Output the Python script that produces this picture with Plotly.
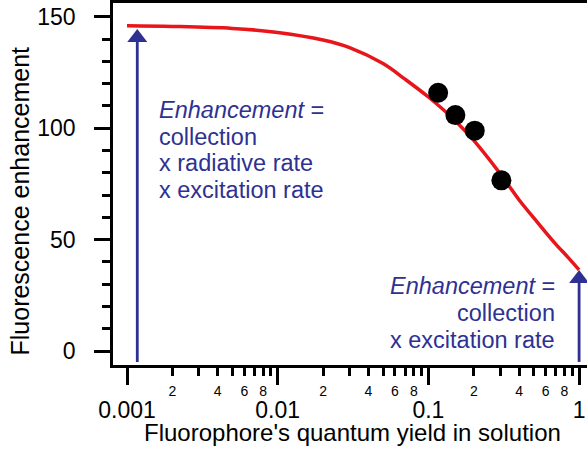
import numpy as np
import plotly.graph_objects as go

# ---- data ----
curve_q = [0.001, 0.002, 0.005, 0.01, 0.02, 0.03, 0.05, 0.07, 0.10, 0.15, 0.20,
           0.30, 0.40, 0.50, 0.60, 0.70, 0.85, 1.0]
curve_enh = [146.0, 145.7, 144.8, 143.0, 139.6, 136.2, 129.0, 122.0, 114.0, 103.5, 94.5,
             79.5, 67.8, 59.8, 53.3, 48.0, 41.8, 36.4]

meas_q = [0.116, 0.151, 0.203, 0.305]
meas_enh = [115.9, 105.9, 98.9, 76.6]

arrow_q = [0.00117, 1.0]
arrow_tip = [144.5, 36.4]
arrow_base = -4.9

x_major_vals = [0.001, 0.01, 0.1, 1]
x_major_text = ["0.001", "0.01", "0.1", "1"]
x_minor_vals = [m * d for d in [0.001, 0.01, 0.1] for m in range(2, 10)]
x_minor_label_vals = [m * d for d in [0.001, 0.01, 0.1] for m in (2, 4, 6, 8)]
x_minor_label_text = [str(m) for d in [0.001, 0.01, 0.1] for m in (2, 4, 6, 8)]
y_major_vals = [0, 50, 100, 150]
y_minor_vals = [10, 20, 30, 40, 60, 70, 80, 90, 110, 120, 130, 140]

left_text = ["<i>Enhancement</i> =", "collection", "x radiative rate", "x excitation rate"]
right_text = ["<i>Enhancement</i> =", "collection", "x excitation rate"]

# ---- styling / layout ----
W, H = 587, 455
ML, MR, MT, MB = 113, 0, 3, 90
PW, PH = W - ML - MR, H - MT - MB
YR = [-6.28, 156.2]
XR = [-3.0929, 0.0524]
BLUE = "#2e3192"
RED = "#e8151b"
FONT = "Liberation Sans, Arial, sans-serif"

units_per_px = (YR[1] - YR[0]) / PH
tri_size = 17.3
tri_r = tri_size / 2

fig = go.Figure()

# arrows (shaft + head)
for q, tip in zip(arrow_q, arrow_tip):
    head_c = tip - tri_r * units_per_px
    fig.add_trace(go.Scatter(x=[q, q], y=[arrow_base, head_c], mode="lines",
                             line=dict(color=BLUE, width=2.8), showlegend=False, hoverinfo="skip",
                             cliponaxis=False))
    fig.add_trace(go.Scatter(x=[q], y=[head_c], mode="markers",
                             marker=dict(symbol="triangle-up", size=tri_size, color=BLUE),
                             showlegend=False, hoverinfo="skip", cliponaxis=False))

fig.add_trace(go.Scatter(x=curve_q, y=curve_enh, mode="lines",
                         line=dict(color=RED, width=3.5, shape="spline", smoothing=1.0),
                         showlegend=False))
fig.add_trace(go.Scatter(x=meas_q, y=meas_enh, mode="markers",
                         marker=dict(color="black", size=20), showlegend=False))
fig.add_trace(go.Scatter(x=[None], y=[None], xaxis="x2", showlegend=False, hoverinfo="skip"))

fig.update_layout(
    width=W, height=H,
    margin=dict(l=ML, r=MR, t=MT, b=MB, pad=0),
    plot_bgcolor="white", paper_bgcolor="white",
    font=dict(family=FONT, color="black", size=23),
    xaxis=dict(type="log", range=XR, showgrid=False, zeroline=False,
               showline=True, linecolor="black", linewidth=2.5, mirror=True,
               tickmode="array", tickvals=x_major_vals, ticktext=x_major_text,
               ticks="outside", ticklen=17, tickwidth=2.5, tickcolor="black",
               tickfont=dict(size=23), ticklabelstandoff=6,
               minor=dict(tickmode="array", tickvals=x_minor_vals, ticks="outside",
                          ticklen=8, tickwidth=2.5, tickcolor="black", showgrid=False),
               automargin=False),
    xaxis2=dict(type="log", range=XR, overlaying="x", anchor="y", side="bottom",
                showgrid=False, zeroline=False, showline=False,
                tickmode="array", tickvals=x_minor_label_vals, ticktext=x_minor_label_text,
                ticks="", tickfont=dict(size=14), ticklabelstandoff=16, automargin=False),
    yaxis=dict(range=YR, showgrid=False, zeroline=False,
               showline=True, linecolor="black", linewidth=2.5,
               tickmode="array", tickvals=y_major_vals,
               ticks="outside", ticklen=16, tickwidth=2.5, tickcolor="black",
               tickfont=dict(size=23), ticklabelstandoff=14,
               minor=dict(tickmode="array", tickvals=y_minor_vals, ticks="outside",
                          ticklen=8, tickwidth=2.5, tickcolor="black", showgrid=False),
               automargin=False),
)

def px_to_paper(px, py):
    return (px - ML) / PW, (H - MB - py) / PH

annots = []
tx, ty = px_to_paper(352.5, 432)
annots.append(dict(text="Fluorophore's quantum yield in solution", x=tx, y=ty,
                   xref="paper", yref="paper", showarrow=False, font=dict(size=24),
                   xanchor="center", yanchor="middle"))
tx, ty = px_to_paper(19, 201.5)
annots.append(dict(text="Fluorescence enhancement", x=tx, y=ty, textangle=-90,
                   xref="paper", yref="paper", showarrow=False, font=dict(size=25),
                   xanchor="center", yanchor="middle"))
for line, py in zip(left_text, [110, 137, 163, 190]):
    tx, ty = px_to_paper(156.7, py)
    annots.append(dict(text=line, x=tx, y=ty, xref="paper", yref="paper", showarrow=False,
                       font=dict(size=23.5, color=BLUE), xanchor="left", yanchor="middle"))
for line, py in zip(right_text, [286, 313, 340]):
    tx, ty = px_to_paper(556.7, py)
    annots.append(dict(text=line, x=tx, y=ty, xref="paper", yref="paper", showarrow=False,
                       font=dict(size=23.5, color=BLUE), xanchor="right", yanchor="middle"))
fig.update_layout(annotations=annots)

fig.write_html("out.html", config={"displayModeBar": False},
               post_script="document.body.style.margin='0';document.body.style.padding='0';")
